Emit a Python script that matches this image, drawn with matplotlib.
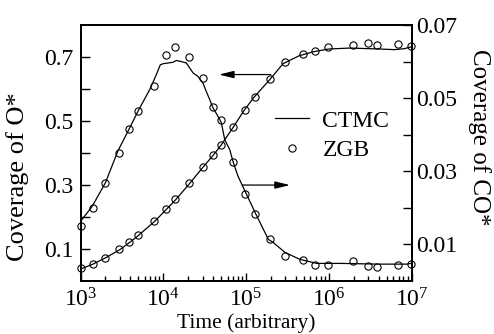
import numpy as np
import matplotlib
matplotlib.use('Agg')
import matplotlib.pyplot as plt
from matplotlib.ticker import LogLocator, NullFormatter

# === Data ===
# ZGB simulation points (shared time grid)
zgb_time = [1.0e3, 1.4e3, 2.0e3, 2.9e3, 3.9e3, 4.9e3, 7.8e3, 1.08e4, 1.37e4,
            2.07e4, 3.0e4, 3.98e4, 5.0e4, 7.0e4, 9.6e4, 1.27e5, 1.97e5,
            2.95e5, 4.85e5, 6.9e5, 9.8e5, 1.97e6, 2.94e6, 3.88e6, 6.8e6, 9.85e6]
zgb_o = [0.038, 0.052, 0.072, 0.098, 0.122, 0.142, 0.188, 0.225, 0.254,
         0.306, 0.355, 0.393, 0.424, 0.481, 0.535, 0.575, 0.631, 0.683,
         0.709, 0.718, 0.730, 0.738, 0.744, 0.738, 0.741, 0.735]
zgb_co = [0.0149, 0.0199, 0.0268, 0.0349, 0.0416, 0.0464, 0.0534, 0.0617,
          0.0639, 0.0612, 0.0554, 0.0475, 0.0439, 0.0326, 0.0236, 0.0183,
          0.0113, 0.0066, 0.0056, 0.0042, 0.0042, 0.0054, 0.0040, 0.0038,
          0.0043, 0.0045]

# CTMC curves
ctmc_time_o = [1.0e3, 1.4e3, 2.0e3, 3.0e3, 4.0e3, 5.0e3, 8.0e3, 1.1e4, 1.4e4,
               2.1e4, 3.0e4, 4.0e4, 5.0e4, 7.0e4, 9.5e4, 1.25e5, 1.95e5,
               2.8e5, 4.4e5, 6.7e5, 1.0e6, 1.8e6, 4.1e6, 6.2e6, 8.2e6, 1.0e7]
ctmc_o = [0.036, 0.051, 0.071, 0.097, 0.121, 0.141, 0.187, 0.224, 0.252,
          0.305, 0.354, 0.392, 0.424, 0.480, 0.533, 0.574, 0.630, 0.679,
          0.704, 0.717, 0.725, 0.728, 0.725, 0.723, 0.726, 0.732]

ctmc_time_co = [1.0e3, 1.38e3, 2.0e3, 2.84e3, 3.75e3, 4.95e3, 6.85e3, 8.24e3,
                9.2e3, 9.93e3, 1.14e4, 1.31e4, 1.44e4, 1.65e4, 1.9e4, 2.29e4,
                2.63e4, 3.02e4, 3.31e4, 3.64e4, 3.99e4, 4.59e4, 5.04e4, 5.53e4,
                6.35e4, 6.97e4, 8.0e4, 9.73e4, 1.29e5, 1.86e5, 2.14e5, 2.96e5,
                4.49e5, 7.14e5, 1.37e6, 4.16e6, 8.75e6, 9.86e6]
ctmc_co = [0.0162, 0.0203, 0.0268, 0.0356, 0.0409, 0.0464, 0.0523, 0.0564,
           0.0591, 0.0594, 0.0596, 0.0598, 0.0603, 0.0600, 0.0596, 0.0569,
           0.0559, 0.0541, 0.0518, 0.0496, 0.0473, 0.0450, 0.0432, 0.0386,
           0.0359, 0.0326, 0.0286, 0.0245, 0.0186, 0.0113, 0.0104, 0.0077,
           0.0058, 0.0047, 0.0047, 0.0045, 0.0045, 0.0047]

x_ticks = [1e3, 1e4, 1e5, 1e6, 1e7]
left_ticks = [0.1, 0.2, 0.3, 0.4, 0.5, 0.6, 0.7]
left_labels = ['0.1', '', '0.3', '', '0.5', '', '0.7']
right_ticks = [0.01, 0.02, 0.03, 0.04, 0.05, 0.06, 0.07]
right_labels = ['0.01', '', '0.03', '', '0.05', '', '0.07']

# === Style ===
plt.rcParams['font.family'] = ['Liberation Serif', 'DejaVu Serif']
plt.rcParams['mathtext.fontset'] = 'stix'

fig = plt.figure(figsize=(4.94, 3.34), dpi=100)
ax = fig.add_axes([0.163, 0.160, 0.670, 0.765])
ax2 = ax.twinx()

line_kw = dict(color='black', lw=0.9)
mark_kw = dict(ls='none', marker='o', ms=5.2, mfc='none', mec='black',
               mew=0.8, clip_on=False, zorder=3)

ctmc_line, = ax.plot(ctmc_time_o, ctmc_o, **line_kw)
zgb_marks, = ax.plot(zgb_time, zgb_o, **mark_kw)
ax2.plot(ctmc_time_co, ctmc_co, **line_kw)
ax2.plot(zgb_time, zgb_co, **mark_kw)

ax.set_xscale('log')
ax.set_xlim(1e3, 1e7)
ax.set_ylim(0, 0.8)
ax2.set_ylim(0, 0.07)

ax.set_xticks(x_ticks)
ax.xaxis.set_minor_locator(LogLocator(base=10, subs=np.arange(2, 10), numticks=20))
ax.xaxis.set_minor_formatter(NullFormatter())

ax.set_yticks(left_ticks)
ax.set_yticklabels(left_labels)
ax2.set_yticks(right_ticks)
ax2.set_yticklabels(right_labels)

ax.tick_params(axis='x', which='major', direction='in', length=6, width=1,
               labelsize=17, pad=5.5, top=False)
ax.tick_params(axis='x', which='minor', direction='in', length=3.3, width=1,
               top=False)
ax.tick_params(axis='y', direction='in', length=6.5, width=1, labelsize=17,
               pad=5, right=False)
ax2.tick_params(axis='y', direction='in', length=6.5, width=1, labelsize=17,
                pad=3)

for a in (ax, ax2):
    for s in a.spines.values():
        s.set_linewidth(1.4)

ax.set_xlabel('Time (arbitrary)', fontsize=15.5, va='center')
ax.xaxis.set_label_coords(0.5, -0.166)
ax.set_ylabel('Coverage of O*', fontsize=19, va='center')
ax.yaxis.set_label_coords(-0.19, 0.405)
ax2.set_ylabel('Coverage of CO*', fontsize=18, rotation=270, va='center')
ax2.yaxis.set_label_coords(1.205, 0.56)

# arrows pointing to the axis each curve belongs to
arrow_kw = dict(arrowstyle='-|>,head_length=0.9,head_width=0.22', color='black',
                lw=0.9, shrinkA=0, shrinkB=0)
ax.annotate('', xy=(4.7e4, 0.645), xytext=(2.0e5, 0.645), arrowprops=arrow_kw)
ax.annotate('', xy=(3.4e5, 0.299), xytext=(9.0e4, 0.299), arrowprops=arrow_kw)

ax2.legend([ctmc_line, zgb_marks], ['CTMC', 'ZGB'], loc='upper left',
           bbox_to_anchor=(0.557, 0.670), bbox_transform=fig.transFigure,
           frameon=False, fontsize=17, handlelength=1.45, handletextpad=0.55,
           labelspacing=0.33, borderpad=0, borderaxespad=0)

fig.savefig('out.png', dpi=100)
plt.close(fig)
